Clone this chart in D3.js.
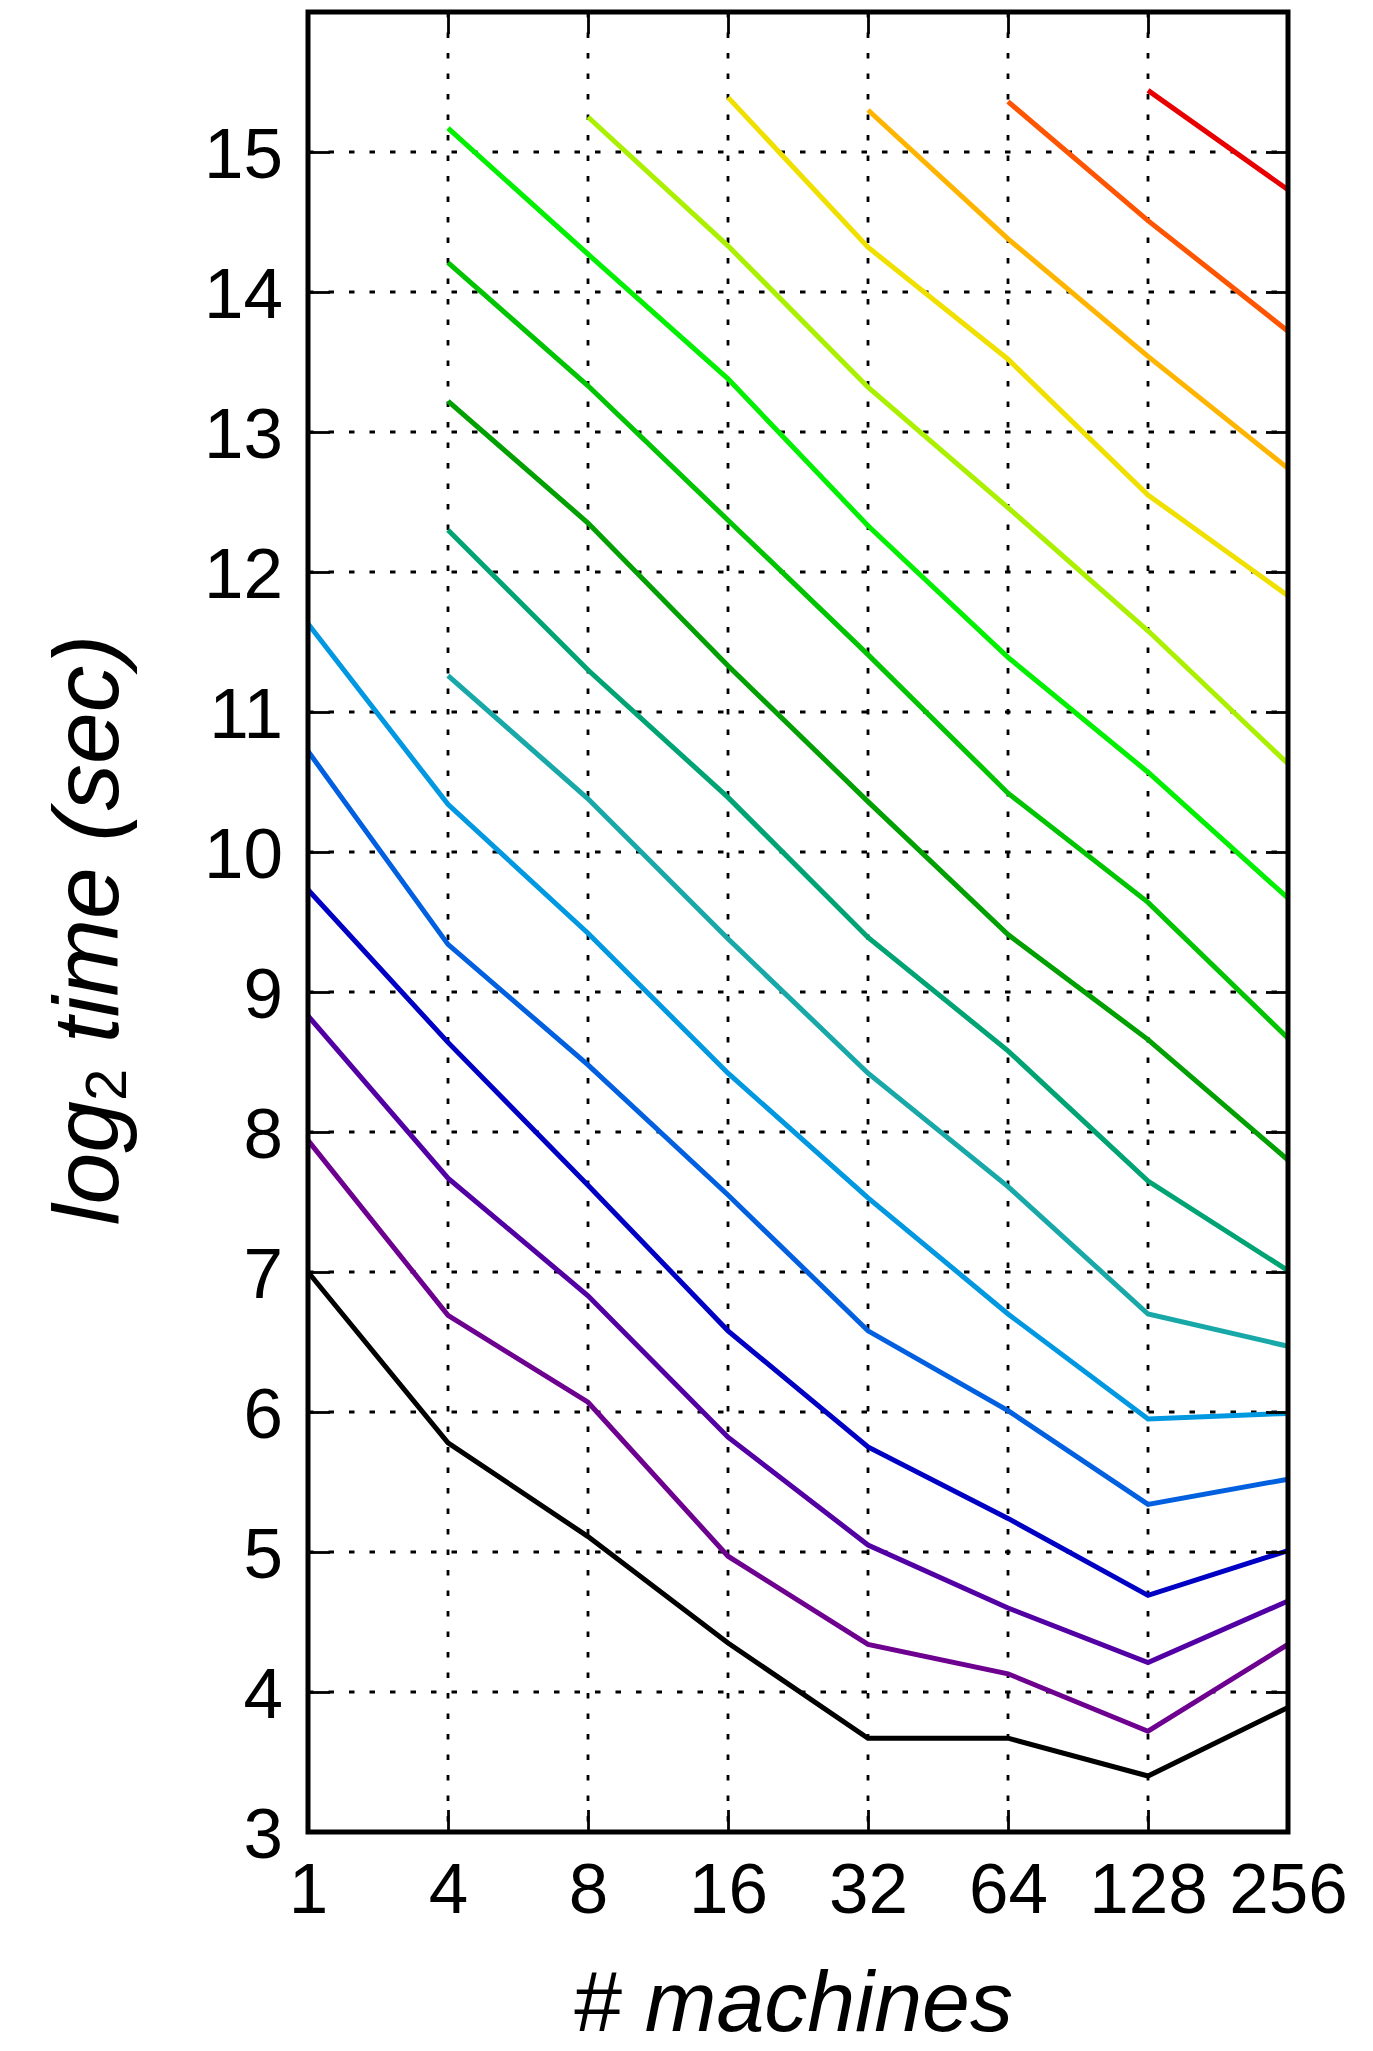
<!DOCTYPE html>
<html>
<head>
<meta charset="utf-8">
<script src="https://cdn.jsdelivr.net/npm/d3@7"></script>
<style>
  html, body { margin: 0; padding: 0; background: #ffffff; }
  svg { display: block; }
  text { font-family: "Liberation Sans", Arial, Helvetica, sans-serif; fill: #000; }
</style>
</head>
<body>
<svg id="chart" width="1373" height="2051"></svg>
<script>
// Number of machines (x categories, evenly spaced on a log2 axis)
const machines = ["1", "4", "8", "16", "32", "64", "128", "256"];

// y tick values (log2 of runtime in seconds)
const yTicks = [3, 4, 5, 6, 7, 8, 9, 10, 11, 12, 13, 14, 15];

// One series per problem size; null where the run was not performed
const s00 = [7.00, 5.78, 5.11, 4.35, 3.67, 3.67, 3.40, 3.89];
const s01 = [7.94, 6.69, 6.07, 4.97, 4.34, 4.13, 3.72, 4.34];
const s02 = [8.83, 7.67, 6.83, 5.82, 5.05, 4.60, 4.21, 4.65];
const s03 = [9.73, 8.64, 7.62, 6.58, 5.75, 5.24, 4.69, 5.01];
const s04 = [10.72, 9.34, 8.48, 7.55, 6.58, 6.01, 5.34, 5.52];
const s05 = [11.63, 10.34, 9.42, 8.42, 7.53, 6.70, 5.95, 5.99];
const s06 = [null, 11.26, 10.38, 9.38, 8.42, 7.61, 6.70, 6.47];
const s07 = [null, 12.30, 11.30, 10.39, 9.39, 8.58, 7.65, 7.01];
const s08 = [null, 13.22, 12.35, 11.33, 10.36, 9.41, 8.66, 7.80];
const s09 = [null, 14.21, 13.33, 12.37, 11.41, 10.42, 9.64, 8.67];
const s10 = [null, 15.17, 14.27, 13.38, 12.33, 11.39, 10.57, 9.67];
const s11 = [null, null, 15.25, 14.33, 13.32, 12.46, 11.58, 10.63];
const s12 = [null, null, null, 15.39, 14.32, 13.52, 12.55, 11.83];
const s13 = [null, null, null, null, 15.30, 14.38, 13.54, 12.74];
const s14 = [null, null, null, null, null, 15.36, 14.51, 13.72];
const s15 = [null, null, null, null, null, null, 15.44, 14.73];

const seriesValues = [s00, s01, s02, s03, s04, s05, s06, s07,
                      s08, s09, s10, s11, s12, s13, s14, s15];

const seriesColors = ["#000000", "#6e0090", "#5200a4", "#0000c4",
                      "#0060e0", "#0098e0", "#18a8a8", "#00a474",
                      "#00a000", "#00c400", "#00f000", "#aaf000",
                      "#f0e000", "#ffb400", "#ff5400", "#e80000"];

// Layout
const plot = { left: 308, top: 12, right: 1288, bottom: 1832 };

const svg = d3.select("#chart");

const x = d3.scalePoint()
  .domain(machines)
  .range([plot.left, plot.right]);

const y = d3.scaleLinear()
  .domain([3, 16])
  .range([plot.bottom, plot.top]);

// Grid lines (dotted)
const grid = svg.append("g").attr("class", "grid");

grid.selectAll("line.gx")
  .data(machines.slice(1, -1))
  .join("line")
  .attr("class", "gx")
  .attr("x1", d => x(d)).attr("x2", d => x(d))
  .attr("y1", plot.top).attr("y2", plot.bottom)
  .attr("stroke", "#000")
  .attr("stroke-width", 2.8)
  .attr("stroke-dasharray", "5.5,15");

grid.selectAll("line.gy")
  .data(yTicks.filter(v => v > 3))
  .join("line")
  .attr("class", "gy")
  .attr("x1", plot.left).attr("x2", plot.right)
  .attr("y1", d => y(d)).attr("y2", d => y(d))
  .attr("stroke", "#000")
  .attr("stroke-width", 2.8)
  .attr("stroke-dasharray", "5.5,15");

// Series lines
const line = d3.line()
  .defined(d => d.v != null)
  .x(d => x(d.m))
  .y(d => y(d.v));

svg.append("g").attr("class", "series")
  .selectAll("path")
  .data(seriesValues.map((vals, i) => ({
    color: seriesColors[i],
    points: vals.map((v, j) => ({ m: machines[j], v: v }))
  })))
  .join("path")
  .attr("d", d => line(d.points))
  .attr("fill", "none")
  .attr("stroke", d => d.color)
  .attr("stroke-width", 5)
  .attr("stroke-linejoin", "miter")
  .attr("stroke-linecap", "butt");

// Axes with inward ticks, mirrored on the top and right
const tickLen = 22;

const yAxisLeft = d3.axisLeft(y)
  .tickValues(yTicks)
  .tickFormat(d3.format("d"))
  .tickSizeInner(-tickLen)
  .tickSizeOuter(0)
  .tickPadding(25);

const yAxisRight = d3.axisRight(y)
  .tickValues(yTicks)
  .tickFormat("")
  .tickSizeInner(-tickLen)
  .tickSizeOuter(0);

const xAxisBottom = d3.axisBottom(x)
  .tickSizeInner(-tickLen)
  .tickSizeOuter(0)
  .tickPadding(31);

const xAxisTop = d3.axisTop(x)
  .tickFormat("")
  .tickSizeInner(-tickLen)
  .tickSizeOuter(0);

function styleAxis(g) {
  g.select(".domain").remove();
  g.selectAll(".tick line").attr("stroke", "#000").attr("stroke-width", 2.8);
  g.selectAll(".tick text")
    .attr("font-size", 71)
    .attr("font-family", "'Liberation Sans', Arial, Helvetica, sans-serif")
    .attr("fill", "#000");
}

svg.append("g")
  .attr("transform", `translate(${plot.left},0)`)
  .call(yAxisLeft).call(styleAxis)
  .selectAll(".tick text").attr("dy", "0.36em");

svg.append("g")
  .attr("transform", `translate(${plot.right},0)`)
  .call(yAxisRight).call(styleAxis);

svg.append("g")
  .attr("transform", `translate(0,${plot.bottom})`)
  .call(xAxisBottom).call(styleAxis)
  .selectAll(".tick text").attr("dy", "0.71em");

svg.append("g")
  .attr("transform", `translate(0,${plot.top})`)
  .call(xAxisTop).call(styleAxis);

// Frame
svg.append("rect")
  .attr("x", plot.left).attr("y", plot.top)
  .attr("width", plot.right - plot.left)
  .attr("height", plot.bottom - plot.top)
  .attr("fill", "none")
  .attr("stroke", "#000")
  .attr("stroke-width", 5);

// Axis titles
svg.append("text")
  .attr("x", (plot.left + plot.right) / 2 - 5)
  .attr("y", 2031)
  .attr("text-anchor", "middle")
  .attr("font-size", 86)
  .attr("font-style", "italic")
  .text("# machines");

const yTitle = svg.append("text")
  .attr("transform", `translate(118,${(plot.top + plot.bottom) / 2 + 8}) rotate(-90)`)
  .attr("text-anchor", "middle")
  .attr("font-size", 93)
  .attr("font-style", "italic");
yTitle.append("tspan").text("log");
yTitle.append("tspan").attr("font-size", 58).attr("dy", 8).attr("font-style", "normal").text("2");
yTitle.append("tspan").attr("dy", -8).text(" time (sec)");
</script>
</body>
</html>
